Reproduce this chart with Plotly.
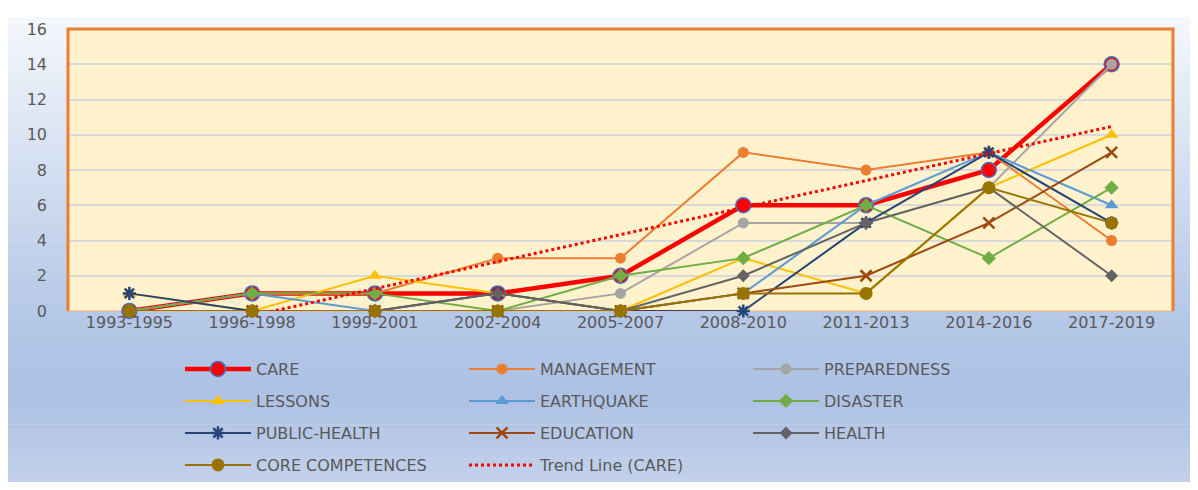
import numpy as np
import plotly.graph_objects as go

periods = ['1993-1995', '1996-1998', '1999-2001', '2002-2004', '2005-2007',
           '2008-2010', '2011-2013', '2014-2016', '2017-2019']

care = [0, 1, 1, 1, 2, 6, 6, 8, 14]
management = [0, 1, 1, 3, 3, 9, 8, 9, 4]
preparedness = [0, 0, 0, 0, 1, 5, 5, 7, 14]
lessons = [1, 0, 2, 1, 0, 3, 1, 7, 10]
earthquake = [0, 1, 0, 0, 0, 1, 6, 9, 6]
disaster = [0, 1, 1, 0, 2, 3, 6, 3, 7]
public_health = [1, 0, 0, 1, 0, 0, 5, 9, 5]
education = [0, 0, 0, 0, 0, 1, 2, 5, 9]
health = [0, 0, 0, 1, 0, 2, 5, 7, 2]
core_competences = [0, 0, 0, 0, 0, 1, 1, 7, 5]

# linear trend of CARE, like excel's trendline
xi = np.arange(1, len(care) + 1)
slope, icpt = np.polyfit(xi, care, 1)
trend = slope * xi + icpt

# page has an 8px body margin, so the figure is 8px smaller and everything
# below is in figure pixels (page pixel - 8)
OFF = 8
W, H = 1198 - OFF, 490 - OFF
L, R, T, B = 68 - OFF, 1173 - OFF, 20 - OFF, 311 - OFF
FONT = 'DejaVu Sans'
GREY_TXT = '#595959'


def px(x):
    return (x - L) / (R - L)


def py(y):
    return (B - y) / (B - T)


fig = go.Figure()

series = [
    ('CARE', care, '#ff0000', 4.5, 'circle', 15, 'legend'),
    ('MANAGEMENT', management, '#ed7d31', 2, 'circle', 11, 'legend'),
    ('PREPAREDNESS', preparedness, '#a5a5a5', 2, 'circle', 11, 'legend'),
    ('LESSONS', lessons, '#ffc000', 2, 'triangle-up', 12, 'legend2'),
    ('EARTHQUAKE', earthquake, '#5b9bd5', 2, 'triangle-up', 12, 'legend2'),
    ('DISASTER', disaster, '#70ad47', 2, 'diamond', 11, 'legend2'),
    ('PUBLIC-HEALTH', public_health, '#264478', 2, 'asterisk-open', 11, 'legend3'),
    ('EDUCATION', education, '#9e480e', 2, 'x-thin-open', 11, 'legend3'),
    ('HEALTH', health, '#636363', 2, 'diamond', 10, 'legend3'),
    ('CORE COMPETENCES', core_competences, '#997300', 2, 'circle', 13, 'legend4'),
]

for name, vals, col, lw, sym, sz, lg in series:
    if name == 'CARE':
        mline = dict(color='#4472c4', width=1.5)
    elif sym.endswith('open'):
        mline = dict(color=col, width=2.5)
    else:
        mline = dict(width=0)
    fig.add_trace(go.Scatter(
        x=periods, y=vals, name=name, mode='lines+markers',
        line=dict(color=col, width=lw),
        marker=dict(symbol=sym, size=sz, color=col, line=mline),
        legend=lg, cliponaxis=False))

fig.add_trace(go.Scatter(
    x=periods, y=trend, name='Trend Line (CARE)', mode='lines',
    line=dict(color='#ff0000', width=3, dash='dot'), legend='legend4'))

# background gradient, done with thin bands
stops = [(0, (245, 247, 252)), (142, (214, 225, 242)), (312, (180, 199, 231)),
         (392, (173, 193, 228)), (482, (195, 209, 235))]
shapes = []
for y0 in range(0, 479, 5):
    y1 = min(y0 + 5, 479)
    ym = (y0 + y1) / 2
    for (a, ca), (b, cb) in zip(stops[:-1], stops[1:]):
        if a <= ym <= b:
            t = (ym - a) / (b - a)
            c = tuple(int(round(ca[k] + (cb[k] - ca[k]) * t)) for k in range(3))
            break
    shapes.append(dict(type='rect', xref='paper', yref='paper', layer='below',
                       x0=px(0), x1=px(W + 2), y0=py(y0), y1=py(y1 + 0.5),
                       fillcolor='rgb(%d,%d,%d)' % c, line=dict(width=0)))
# plot area fill
shapes.append(dict(type='rect', xref='paper', yref='paper', layer='below',
                   x0=0, x1=1, y0=0, y1=1, fillcolor='#fff2cc',
                   line=dict(color='#f4b183', width=1)))
# orange frame (left, top, right)
shapes.append(dict(type='path', xref='paper', yref='paper', layer='above',
                   path='M %f,%f L %f,%f L %f,%f L %f,%f' % (0, 0, 0, 1, 1, 1, 1, 0),
                   line=dict(color='#ed7d31', width=3)))
fig.update_layout(shapes=shapes)

leg_common = dict(orientation='h', xref='container', yref='container',
                  xanchor='left', yanchor='middle', bgcolor='rgba(0,0,0,0)',
                  font=dict(family=FONT, size=16, color=GREY_TXT),
                  entrywidth=203, itemwidth=66, itemclick=False)
rows_y = [369 - OFF, 401 - OFF, 433 - OFF, 465 - OFF]
leg_x = 172 / W
fig.update_layout(
    legend=dict(leg_common, x=leg_x, y=1 - rows_y[0] / H),
    legend2=dict(leg_common, x=leg_x, y=1 - rows_y[1] / H),
    legend3=dict(leg_common, x=leg_x, y=1 - rows_y[2] / H),
    legend4=dict(leg_common, x=leg_x, y=1 - rows_y[3] / H),
)

fig.update_layout(
    width=W, height=H,
    margin=dict(l=L, r=W - R, t=T, b=H - B, pad=0),
    paper_bgcolor='white', plot_bgcolor='rgba(0,0,0,0)',
    font=dict(family=FONT, size=16, color=GREY_TXT),
    showlegend=True,
    xaxis=dict(type='category', range=[-0.5, len(periods) - 0.5],
               showgrid=False, showline=False, zeroline=False,
               ticks='', tickfont=dict(size=16, color=GREY_TXT)),
    yaxis=dict(range=[0, 16], dtick=2, showgrid=True, gridcolor='#d9d9d9',
               gridwidth=1.5, zeroline=False, showline=False, ticks='',
               ticklabelstandoff=20, tickfont=dict(size=16, color=GREY_TXT)),
)

fig.write_html('out.html')
